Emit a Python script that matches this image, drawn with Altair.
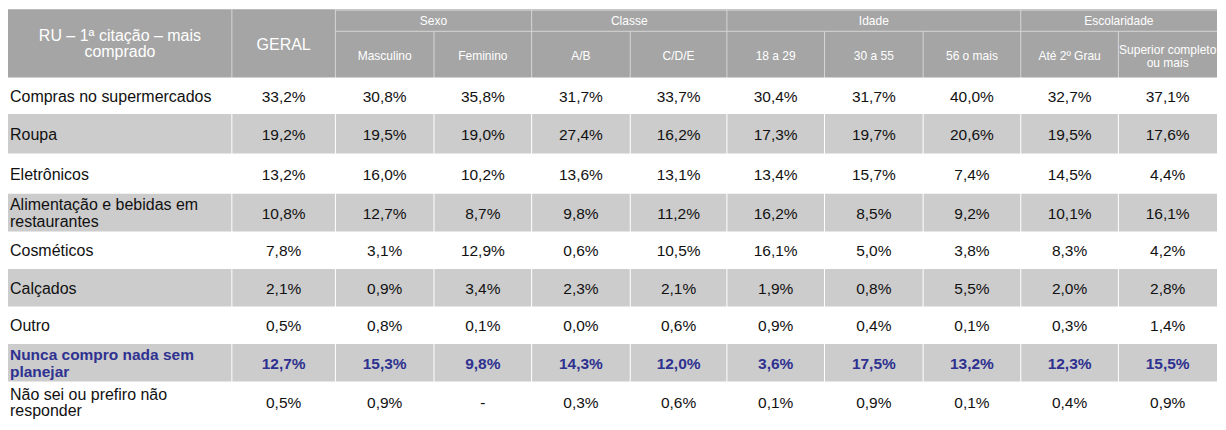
import altair as alt
import pandas as pd

# ---------------- data ----------------
title_label = "RU – 1ª citação – mais\ncomprado"
total_label = "GERAL"
groups = ["Sexo", "Classe", "Idade", "Escolaridade"]
group_sizes = [2, 2, 3, 2]
subcolumns = ["Masculino", "Feminino", "A/B", "C/D/E", "18 a 29", "30 a 55",
              "56 o mais", "Até 2º Grau", "Superior completo\nou mais"]
categories = ["Compras no supermercados", "Roupa", "Eletrônicos",
              "Alimentação e bebidas em\nrestaurantes", "Cosméticos", "Calçados",
              "Outro", "Nunca compro nada sem\nplanejar",
              "Não sei ou prefiro não\nresponder"]
highlight_category = "Nunca compro nada sem\nplanejar"

geral = [33.2, 19.2, 13.2, 10.8, 7.8, 2.1, 0.5, 12.7, 0.5]
masculino = [30.8, 19.5, 16.0, 12.7, 3.1, 0.9, 0.8, 15.3, 0.9]
feminino = [35.8, 19.0, 10.2, 8.7, 12.9, 3.4, 0.1, 9.8, None]
classe_ab = [31.7, 27.4, 13.6, 9.8, 0.6, 2.3, 0.0, 14.3, 0.3]
classe_cde = [33.7, 16.2, 13.1, 11.2, 10.5, 2.1, 0.6, 12.0, 0.6]
idade_18_29 = [30.4, 17.3, 13.4, 16.2, 16.1, 1.9, 0.9, 3.6, 0.1]
idade_30_55 = [31.7, 19.7, 15.7, 8.5, 5.0, 0.8, 0.4, 17.5, 0.9]
idade_56 = [40.0, 20.6, 7.4, 9.2, 3.8, 5.5, 0.1, 13.2, 0.1]
esc_ate2 = [32.7, 19.5, 14.5, 10.1, 8.3, 2.0, 0.3, 12.3, 0.4]
esc_superior = [37.1, 17.6, 4.4, 16.1, 4.2, 2.8, 1.4, 15.5, 0.9]

series = [geral, masculino, feminino, classe_ab, classe_cde, idade_18_29,
          idade_30_55, idade_56, esc_ate2, esc_superior]

# ---------------- layout ----------------
W, H = 1210, 414
REF_W, REF_H = 1226, 430
KY = REF_H / H  # reference units per screen pixel (vertical)
col_edges = [0, 227, 332, 432, 531, 631, 729, 828, 928, 1027, 1126, 1226]
row_edges = [71, 109, 150, 192, 231, 270, 309, 348, 387, 430]
header_split = 23
FONT = "Liberation Sans"
HEADER_BG = "#a5a5a5"
ROW_GRAY = "#cccccc"
HEADER_LINE = "#d6d6d6"
BLUE = "#2e3190"
LH_BODY = 16.5
LH_HEAD = 15.5
LH_SUB = 13.5


def fmt(v):
    if v is None:
        return "-"
    return f"{v:.1f}%".replace(".", ",")


def first_line_y(center, text, lh):
    n = text.count("\n") + 1
    return center - (n - 1) * lh * KY / 2


xs = alt.Scale(domain=[0, REF_W], nice=False, zero=False)
ys = alt.Scale(domain=[0, REF_H], nice=False, zero=False, reverse=True)

# backgrounds
bg_rows = [dict(x=0, x2=REF_W, y=0, y2=row_edges[0], c=HEADER_BG)]
for i in range(len(categories)):
    if i % 2 == 1:
        bg_rows.append(dict(x=0, x2=REF_W, y=row_edges[i], y2=row_edges[i + 1], c=ROW_GRAY))
bg = alt.Chart(pd.DataFrame(bg_rows)).mark_rect().encode(
    x=alt.X("x:Q", scale=xs, axis=None), x2="x2:Q",
    y=alt.Y("y:Q", scale=ys, axis=None), y2="y2:Q",
    color=alt.Color("c:N", scale=None))

# group boundaries (full-height in header)
group_bounds = [col_edges[1], col_edges[2]]
k = 2
for s in group_sizes:
    k += s
    group_bounds.append(col_edges[k])
head_lines = []
for e in col_edges[1:-1]:
    top = 0 if e in group_bounds else header_split
    head_lines.append(dict(x=e, x2=e, y=top, y2=row_edges[0]))
head_lines.append(dict(x=col_edges[2], x2=REF_W, y=header_split, y2=header_split))
head_lines.append(dict(x=col_edges[2], x2=REF_W, y=1, y2=1))
hl = alt.Chart(pd.DataFrame(head_lines)).mark_rule(color=HEADER_LINE, strokeWidth=1).encode(
    x=alt.X("x:Q", scale=xs, axis=None), x2="x2:Q",
    y=alt.Y("y:Q", scale=ys, axis=None), y2="y2:Q")

body_lines = [dict(x=e, y=row_edges[0], y2=REF_H) for e in col_edges[1:-1]]
bl = alt.Chart(pd.DataFrame(body_lines)).mark_rule(color="#ffffff", strokeWidth=1).encode(
    x=alt.X("x:Q", scale=xs, axis=None),
    y=alt.Y("y:Q", scale=ys, axis=None), y2="y2:Q")

# header texts
hdr_big = pd.DataFrame([
    dict(x=(col_edges[0] + col_edges[1]) / 2, y=first_line_y(36, title_label, LH_HEAD), t=title_label),
    dict(x=(col_edges[1] + col_edges[2]) / 2, y=37, t=total_label),
])
hb = alt.Chart(hdr_big).mark_text(font=FONT, fontSize=16, color="white",
                                  lineBreak="\n", lineHeight=LH_HEAD, baseline="middle",
                                  align="center").encode(
    x=alt.X("x:Q", scale=xs, axis=None), y=alt.Y("y:Q", scale=ys, axis=None), text="t:N")

grp_rows = []
k = 2
for g, s in zip(groups, group_sizes):
    grp_rows.append(dict(x=(col_edges[k] + col_edges[k + s]) / 2, y=12, t=g))
    k += s
for j, name in enumerate(subcolumns):
    grp_rows.append(dict(x=(col_edges[j + 2] + col_edges[j + 3]) / 2,
                         y=first_line_y(49, name, LH_SUB), t=name))
hs = alt.Chart(pd.DataFrame(grp_rows)).mark_text(font=FONT, fontSize=12, color="white",
                                                 lineBreak="\n", lineHeight=LH_SUB,
                                                 baseline="middle", align="center").encode(
    x=alt.X("x:Q", scale=xs, axis=None), y=alt.Y("y:Q", scale=ys, axis=None), text="t:N")

# body texts
cells = []
labels = []
for i, cat in enumerate(categories):
    yc = (row_edges[i] + row_edges[i + 1]) / 2 + 1
    hi = cat == highlight_category
    labels.append(dict(x=2, y=first_line_y(yc, cat, LH_BODY), t=cat, hi=hi))
    for j, ser in enumerate(series):
        cells.append(dict(x=(col_edges[j + 1] + col_edges[j + 2]) / 2, y=yc,
                          t=fmt(ser[i]), hi=hi))
cells = pd.DataFrame(cells)
labels = pd.DataFrame(labels)


def txt(df, align, bold, size):
    return alt.Chart(df).mark_text(
        font=FONT, fontSize=size, color=BLUE if bold else "#111111",
        fontWeight="bold" if bold else "normal", lineBreak="\n", lineHeight=LH_BODY,
        baseline="middle", align=align).encode(
        x=alt.X("x:Q", scale=xs, axis=None), y=alt.Y("y:Q", scale=ys, axis=None),
        text="t:N")


layers = [bg, hl, bl, hb, hs,
          txt(labels[~labels.hi], "left", False, 16), txt(labels[labels.hi], "left", True, 15.5),
          txt(cells[~cells.hi], "center", False, 15.5), txt(cells[cells.hi], "center", True, 15.5)]

chart = alt.layer(*layers).properties(
    width=W, height=H, padding=0, background="white"
).configure_view(stroke=None, strokeWidth=0)

chart.save("out.html", embed_options={"renderer": "svg", "actions": False})
